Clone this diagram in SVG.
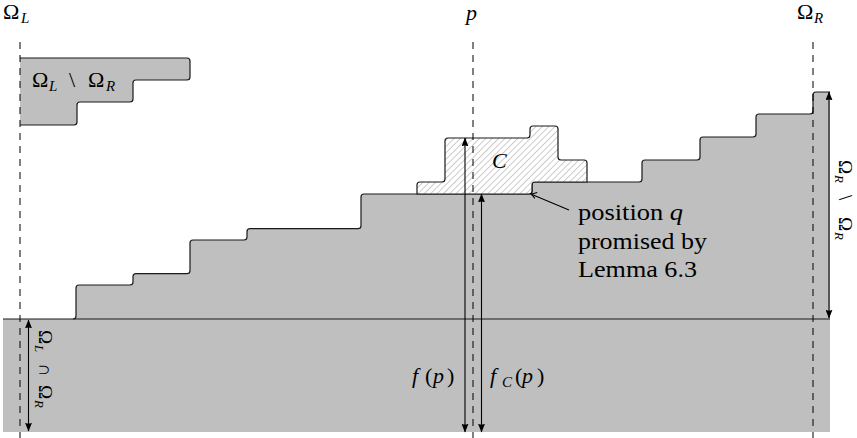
<svg xmlns="http://www.w3.org/2000/svg" width="857" height="438" viewBox="0 0 857 438">
<style>
  .fill { fill: #bfbfbf; stroke: none; }
  .outline { fill: none; stroke: #1a1a1a; stroke-width: 1.2; }
  .cfill { fill: url(#hatch); stroke: #1a1a1a; stroke-width: 1.2; }
  .dash { stroke: #000; stroke-width: 1; stroke-dasharray: 7 6; fill: none; }
  .arrow { stroke: #000; stroke-width: 1.1; fill: none; marker-start: url(#ah); marker-end: url(#ah); }
  text { font-family: 'Liberation Serif', 'DejaVu Serif', serif; fill: #000; }
  .m { font-size: 22px; }
  .r { font-size: 19px; }
  .i { font-style: italic; }
  .sub { font-size: 15px; font-style: italic; }
  .rsub { font-size: 13px; font-style: italic; }
  .txt { font-size: 24px; }
</style>
<defs>
  <marker id="ah" viewBox="0 0 10 8" refX="9.5" refY="4" markerWidth="9" markerHeight="7" orient="auto-start-reverse" markerUnits="userSpaceOnUse">
    <path d="M0,0 L10,4 L0,8 Q2,4 0,0 Z" fill="#000"/>
  </marker>
  <pattern id="hatch" width="4.5" height="10" patternUnits="userSpaceOnUse" patternTransform="rotate(45)">
    <rect x="0" y="0" width="4.5" height="10" fill="#fff"/>
    <line x1="0" y1="0" x2="0" y2="10" stroke="#9a9a9a" stroke-width="1"/>
  </pattern>
</defs>

<g id="bottom-band">
  <rect class="fill" x="3" y="319" width="827" height="113"/>
</g>

<g id="staircase">
  <path class="fill" d="M73,319 Q76,319 76,316 L76,288 Q76,285 79,285 L130,285 Q133,285 133,282 L133,276.7 Q133,273.7 136,273.7 L187,273.7 Q190,273.7 190,270.7 L190,243 Q190,240 193,240 L244,240 Q247,240 247,237 L247,231.7 Q247,228.7 250,228.7 L358,228.7 Q361,228.7 361,225.7 L361,197 Q361,194 364,194 L529,194 Q532,194 532,191 L532,185 Q532,182 535,182 L639,182 Q642,182 642,179 L642,163 Q642,160 645,160 L697,160 Q700,160 700,157 L700,140 Q700,137 703,137 L753,137 Q756,137 756,134 L756,117 Q756,114 759,114 L810,114 Q813,114 813,111 L813,95 Q813,92 816,92 L830,92 L830,319 Z"/>
  <path class="outline" d="M73,319 Q76,319 76,316 L76,288 Q76,285 79,285 L130,285 Q133,285 133,282 L133,276.7 Q133,273.7 136,273.7 L187,273.7 Q190,273.7 190,270.7 L190,243 Q190,240 193,240 L244,240 Q247,240 247,237 L247,231.7 Q247,228.7 250,228.7 L358,228.7 Q361,228.7 361,225.7 L361,197 Q361,194 364,194 L529,194 Q532,194 532,191 L532,185 Q532,182 535,182 L639,182 Q642,182 642,179 L642,163 Q642,160 645,160 L697,160 Q700,160 700,157 L700,140 Q700,137 703,137 L753,137 Q756,137 756,134 L756,117 Q756,114 759,114 L810,114 Q813,114 813,111 L813,95 Q813,92 816,92 L830,92"/>
  <line class="outline" x1="3" y1="319" x2="830" y2="319"/>
</g>

<g id="region-L-minus-R">
  <path class="fill" d="M20,58 L187,58 Q190,58 190,61 L190,77 Q190,80 187,80 L136,80 Q133,80 133,83 L133,99 Q133,102 130,102 L80,102 Q77,102 77,105 L77,122 Q77,125 74,125 L20,125 Z"/>
  <path class="outline" d="M20,58 L187,58 Q190,58 190,61 L190,77 Q190,80 187,80 L136,80 Q133,80 133,83 L133,99 Q133,102 130,102 L80,102 Q77,102 77,105 L77,122 Q77,125 74,125 L20,125"/>
  <text class="m" x="32" y="87">Ω<tspan class="sub" x="49" dy="4">L</tspan><tspan x="69" dy="-4">\</tspan><tspan x="88">Ω</tspan><tspan class="sub" x="106" dy="4">R</tspan></text>
</g>

<g id="C">
  <path class="cfill" d="M417,194 L417,185 Q417,182 420,182 L442,182 Q445,182 445,179 L445,141 Q445,138 448,138 L527,138 Q530,138 530,135 L530,129 Q530,126 533,126 L555,126 Q558,126 558,129 L558,157 Q558,160 561,160 L584,160 Q587,160 587,163 L587,182 L535,182 Q532,182 532,185 L532,191 Q532,194 529,194 Z"/>
  <text class="m i" x="492" y="168">C</text>
</g>

<g id="connectors">
  <line class="dash" x1="20" y1="42" x2="20" y2="438"/>
  <line class="dash" x1="473" y1="42" x2="473" y2="438"/>
  <line class="dash" x1="813" y1="42" x2="813" y2="438"/>
  <line class="arrow" x1="465" y1="138" x2="465" y2="432"/>
  <line class="arrow" x1="481.5" y1="194" x2="481.5" y2="432"/>
  <line class="arrow" x1="829" y1="92" x2="829" y2="318"/>
  <line class="arrow" x1="28.5" y1="320" x2="28.5" y2="431"/>
  <line x1="569" y1="210" x2="532" y2="194.4" stroke="#000" stroke-width="1.1"/>
  <path d="M537.2,192.6 Q533.5,194 531,194 Q533,195.6 534.8,198.4" fill="none" stroke="#000" stroke-width="1.1"/>
</g>

<g id="labels">
  <text class="m" x="3" y="19">Ω<tspan class="sub" x="21" dy="4">L</tspan></text>
  <text class="m i" x="466" y="20">p</text>
  <text class="m" x="797" y="19">Ω<tspan class="sub" x="814" dy="4">R</tspan></text>
  <text class="m" x="412" y="383"><tspan class="i">f</tspan><tspan x="425">(</tspan><tspan class="i" x="433">p</tspan><tspan x="447">)</tspan></text>
  <text class="m" x="490" y="383"><tspan class="i">f</tspan><tspan class="sub" x="502" dy="4">C</tspan><tspan x="515" dy="-4">(</tspan><tspan class="i" x="522">p</tspan><tspan x="537">)</tspan></text>
  <g transform="translate(839,0) rotate(90)">
    <text class="r" x="160" y="0">Ω<tspan class="rsub" x="175" dy="4">R</tspan><tspan x="195" dy="-4">\</tspan><tspan x="217">Ω</tspan><tspan class="rsub" x="232" dy="4">R</tspan></text>
  </g>
  <g transform="translate(39,0) rotate(90)">
    <text class="r" x="330" y="0">Ω<tspan class="rsub" x="345" dy="4">L</tspan><tspan x="363" dy="-4">∩</tspan><tspan x="385">Ω</tspan><tspan class="rsub" x="400" dy="4">R</tspan></text>
  </g>
  <text class="txt" x="578" y="220" textLength="105" lengthAdjust="spacingAndGlyphs">position <tspan class="i">q</tspan></text>
  <text class="txt" x="578" y="249" textLength="129" lengthAdjust="spacingAndGlyphs">promised by</text>
  <text class="txt" x="578" y="277" textLength="119" lengthAdjust="spacingAndGlyphs">Lemma 6.3</text>
</g>
</svg>
